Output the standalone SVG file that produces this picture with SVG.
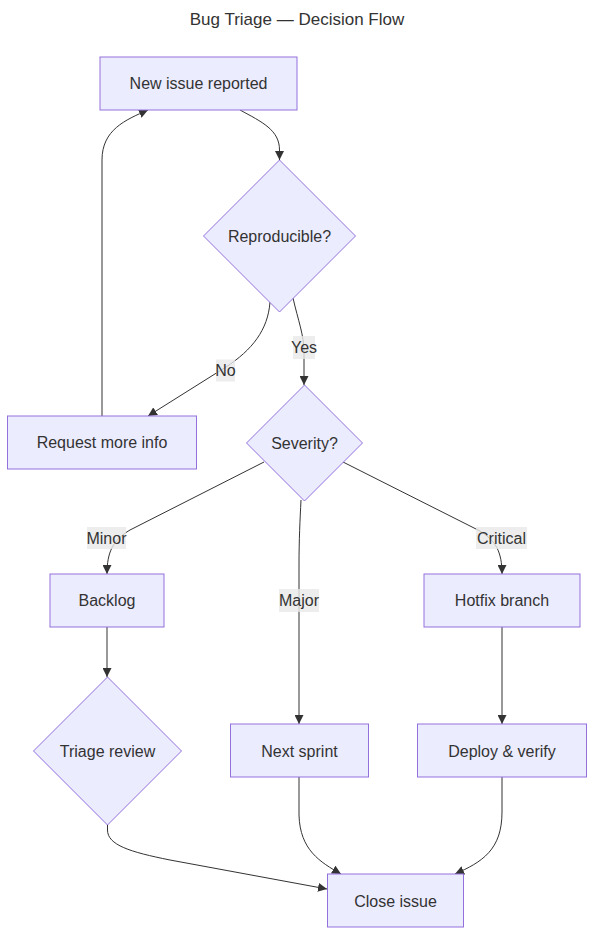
<svg xmlns="http://www.w3.org/2000/svg" width="602" height="948" viewBox="0 0 602 948">
<defs>
<style>
.node rect, .node polygon { fill: #ECECFF; stroke: #9370DB; stroke-width: 1; }
.node text { font-family: "Liberation Sans", Arial, sans-serif; font-size: 16px; fill: #333333; text-anchor: middle; }
.edge { fill: none; stroke: #333333; stroke-width: 1; marker-end: url(#arrow); }
.lbl rect { fill: #e8e8e8; opacity: 0.8; }
.lbl text { font-family: "Liberation Sans", Arial, sans-serif; font-size: 16px; fill: #333333; text-anchor: middle; }
.title { font-family: "Liberation Sans", Arial, sans-serif; font-size: 17px; fill: #333333; text-anchor: middle; }
</style>
<marker id="arrow" viewBox="0 0 10 10" refX="10" refY="5" markerWidth="9" markerHeight="9" markerUnits="userSpaceOnUse" orient="auto">
<path d="M0,0 L10,5 L0,10 z" fill="#333333"/>
</marker>
</defs>
<rect width="602" height="948" fill="#ffffff"/>
<text class="title" x="297" y="25">Bug Triage — Decision Flow</text>

<g id="connectors">
<path class="edge" d="M240,110 C262,122 279.5,130 279.5,150 L279.5,160"/>
<path class="edge" d="M270,302 C268,330 252,350 226,367 L148,416"/>
<path class="edge" d="M293,298 C298,320 304,335 304,352 L304,385"/>
<path class="edge" d="M102,416 L102,160 C102,130 125,120 148,110"/>
<path class="edge" d="M264,462 L130,530 C113,540 107,552 107,574"/>
<path class="edge" d="M301,500 C300,520 299,540 299,565 L299,724"/>
<path class="edge" d="M343,462 L478,530 C496,540 502,552 502,574"/>
<path class="edge" d="M107,627 L107,677"/>
<path class="edge" d="M502,627 L502,724"/>
<path class="edge" d="M107.5,825 L107.5,830 C107.5,845 130,852 170,860 L327,889"/>
<path class="edge" d="M299,777 L299,815 C300,850 320,862 341,874"/>
<path class="edge" d="M502,777 L502,812 C502,850 482,862 455,874"/>
</g>

<g id="edge-labels">
<g class="lbl"><rect x="216" y="359.5" width="19" height="22"/><text x="225.5" y="376">No</text></g>
<g class="lbl"><rect x="293" y="336" width="22" height="23"/><text x="304" y="353">Yes</text></g>
<g class="lbl"><rect x="87" y="527" width="39" height="22"/><text x="106.5" y="543.5">Minor</text></g>
<g class="lbl"><rect x="279" y="589" width="40" height="23"/><text x="299" y="606">Major</text></g>
<g class="lbl"><rect x="476" y="527" width="51" height="22"/><text x="501.5" y="543.5">Critical</text></g>
</g>

<g id="n-new" class="node"><rect x="100" y="57" width="197" height="53"/><text x="198.5" y="89">New issue reported</text></g>
<g id="n-repro" class="node"><polygon points="279.5,160 355.5,236 279.5,312 203.5,236"/><text x="279.5" y="241.5">Reproducible?</text></g>
<g id="n-request" class="node"><rect x="7.5" y="416" width="189" height="53"/><text x="102" y="448">Request more info</text></g>
<g id="n-severity" class="node"><polygon points="304.5,385 362.5,443 304.5,501 246.5,443"/><text x="304.5" y="448.5">Severity?</text></g>
<g id="n-backlog" class="node"><rect x="50" y="574" width="114" height="53"/><text x="107" y="606">Backlog</text></g>
<g id="n-hotfix" class="node"><rect x="424" y="574" width="156" height="53"/><text x="502" y="606">Hotfix branch</text></g>
<g id="n-triage" class="node"><polygon points="107.5,677 181.5,751 107.5,825 33.5,751"/><text x="107.5" y="756.5">Triage review</text></g>
<g id="n-next" class="node"><rect x="230.5" y="724" width="138" height="53"/><text x="299.5" y="756.5">Next sprint</text></g>
<g id="n-deploy" class="node"><rect x="417.5" y="724" width="169" height="53"/><text x="502" y="756.5">Deploy &amp; verify</text></g>
<g id="n-close" class="node"><rect x="327.5" y="874" width="136" height="53"/><text x="395.5" y="906.5">Close issue</text></g>
</svg>
